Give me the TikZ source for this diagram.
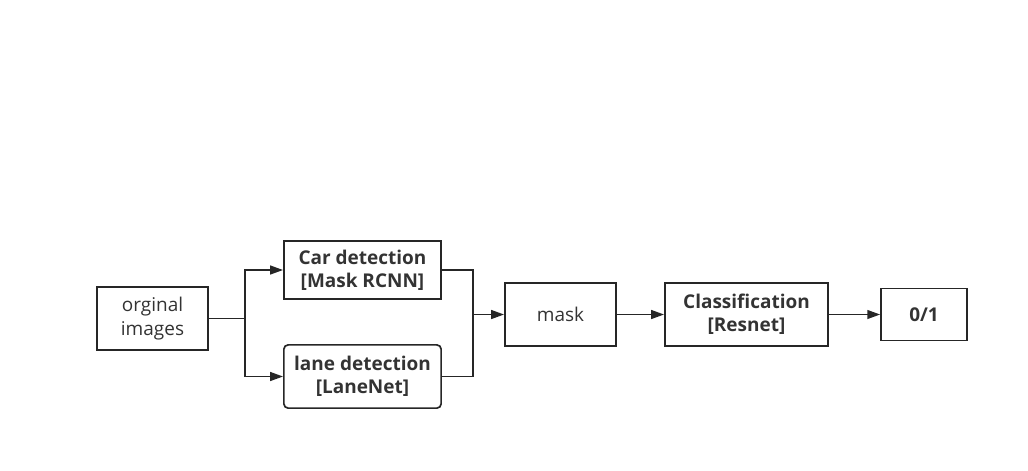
\documentclass[tikz,border=0pt]{standalone}
\usepackage{fontspec}
\setmainfont{Open Sans}
\usetikzlibrary{arrows.meta, positioning}
\tikzset{
    box/.style = {draw=black!85, line width=1.2pt, align=center, inner sep=0pt,
        text=black!80, font=\fontsize{13.5}{16.5}\selectfont},
    boldbox/.style = {box, font=\fontsize{13.5}{16.5}\selectfont\bfseries},
    arr/.style = {draw=black!85, line width=1.2pt, -{Triangle[length=0.32cm, width=0.22cm]}},
    line/.style = {draw=black!85, line width=1.2pt}
}

\begin{document}
\begin{tikzpicture}[x=0.025cm, y=-0.025cm]
        \useasboundingbox (0, 0) rectangle (1028, 470);

        \node[box, minimum width=2.78cm, minimum height=1.58cm] (orig) at (152.5, 318.5) {orginal\\images};
        \node[boldbox, minimum width=3.93cm, minimum height=1.45cm] (car) at (362.5, 270) {Car detection\\{[}Mask RCNN{]}};
        \node[boldbox, rounded corners=3pt, minimum width=3.93cm, minimum height=1.58cm] (lane) at (362.5, 376.5) {lane detection\\{[}LaneNet{]}};
        \node[box, minimum width=2.78cm, minimum height=1.58cm] (mask) at (560.5, 314.5) {mask};
        \node[boldbox, minimum width=4.08cm, minimum height=1.58cm] (cls) at (746.5, 314.5) {Classification\\{[}Resnet{]}};
        \node[boldbox, minimum width=2.15cm, minimum height=1.3cm] (out) at (924, 314.5) {0/1};

        % split and join points
        \coordinate (sp) at (245, 318.5);
        \coordinate (jn) at (473, 314.5);

        \draw[line] (orig.east) -- (sp);
        \draw[arr] (sp) |- (car.west);
        \draw[arr] (sp) |- (lane.west);

        \draw[line] (car.east) -| (jn);
        \draw[line] (lane.east) -| (jn);
        \draw[arr] (jn) -- (mask.west);

        \draw[arr] (mask.east) -- (cls.west);
        \draw[arr] (cls.east) -- (out.west);
    \end{tikzpicture}
\end{document}
